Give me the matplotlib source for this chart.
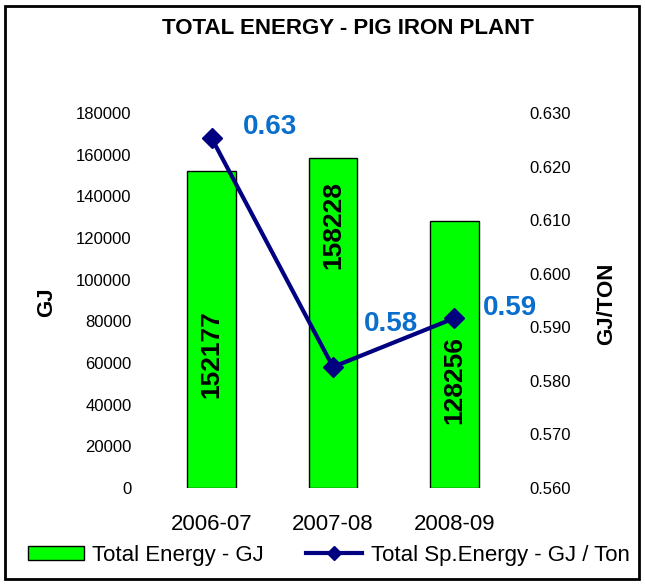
import matplotlib
matplotlib.use('Agg')
import matplotlib.pyplot as plt
from matplotlib.patches import Rectangle

plt.rcParams['font.family'] = ['Liberation Sans', 'DejaVu Sans']

years = ['2006-07', '2007-08', '2008-09']
total_energy = [152177, 158228, 128256]
sp_energy = [0.6253, 0.5826, 0.5917]

# where the rotated bar labels sit (GJ) and value label offsets (points)
bar_label_y = [64500, 126200, 51800]
val_offsets = [(42, 8), (42, 31), (40, 7)]

fig = plt.figure(figsize=(6.45, 5.85), dpi=100)
ax = fig.add_axes([151/645, 1-488/585, 364/645, 375/585])
ax2 = ax.twinx()

x = range(len(years))
ax.bar(x, total_energy, width=0.4, color='#00FF00', edgecolor='black', linewidth=1,
       label='Total Energy - GJ', zorder=2)
for i, v in enumerate(total_energy):
    ax.text(i, bar_label_y[i], str(v), rotation=90, ha='center', va='center',
            fontsize=19, fontweight='bold', color='black', zorder=3)

ax2.plot(x, sp_energy, color='#000080', linewidth=3, marker='D', markersize=10,
         label='Total Sp.Energy - GJ / Ton', zorder=4)
for i, v in enumerate(sp_energy):
    ax2.annotate(f'{v:.2f}', (i, v), xytext=val_offsets[i], textcoords='offset points',
                 ha='center', va='center', fontsize=20, fontweight='bold', color='#0A6ECC')

ax.set_xlim(-0.5, 2.5)
ax.set_ylim(0, 180000)
ax.set_yticks(range(0, 180001, 20000))
ax2.set_ylim(0.56, 0.63)
ax2.set_yticks([0.56, 0.57, 0.58, 0.59, 0.60, 0.61, 0.62, 0.63])
ax2.set_yticklabels([f'{t:.3f}' for t in ax2.get_yticks()])
ax.set_xticks(list(x))
ax.set_xticklabels(years)

for a in (ax, ax2):
    for s in a.spines.values():
        s.set_visible(False)
ax.tick_params(axis='y', length=0, pad=14, labelsize=12)
ax.tick_params(axis='x', length=0, pad=19, labelsize=16)
ax2.tick_params(axis='y', length=0, pad=10, labelsize=12)

fig.text(0.539, 1-28.5/585, 'TOTAL ENERGY - PIG IRON PLANT', ha='center', va='center',
         fontsize=16, fontweight='bold')
fig.text(47/645, 1-302/585, 'GJ', rotation=90, ha='center', va='center',
         fontsize=16, fontweight='bold')
fig.text(607/645, 1-304/585, 'GJ/TON', rotation=90, ha='center', va='center',
         fontsize=16, fontweight='bold')

h1, l1 = ax.get_legend_handles_labels()
h2, l2 = ax2.get_legend_handles_labels()
fig.legend(h1 + h2, l1 + l2, loc='center left', bbox_to_anchor=(28/645, 1-555/585),
           ncol=2, frameon=False, fontsize=16, borderpad=0, borderaxespad=0,
           handlelength=2.5, handleheight=0.6, handletextpad=0.4, columnspacing=1.9,
           markerscale=0.75)

fig.patches.append(Rectangle((5/645, 6/585), 634/645, 573/585, transform=fig.transFigure,
                             fill=False, edgecolor='black', linewidth=2))

fig.savefig('out.png', dpi=100)
